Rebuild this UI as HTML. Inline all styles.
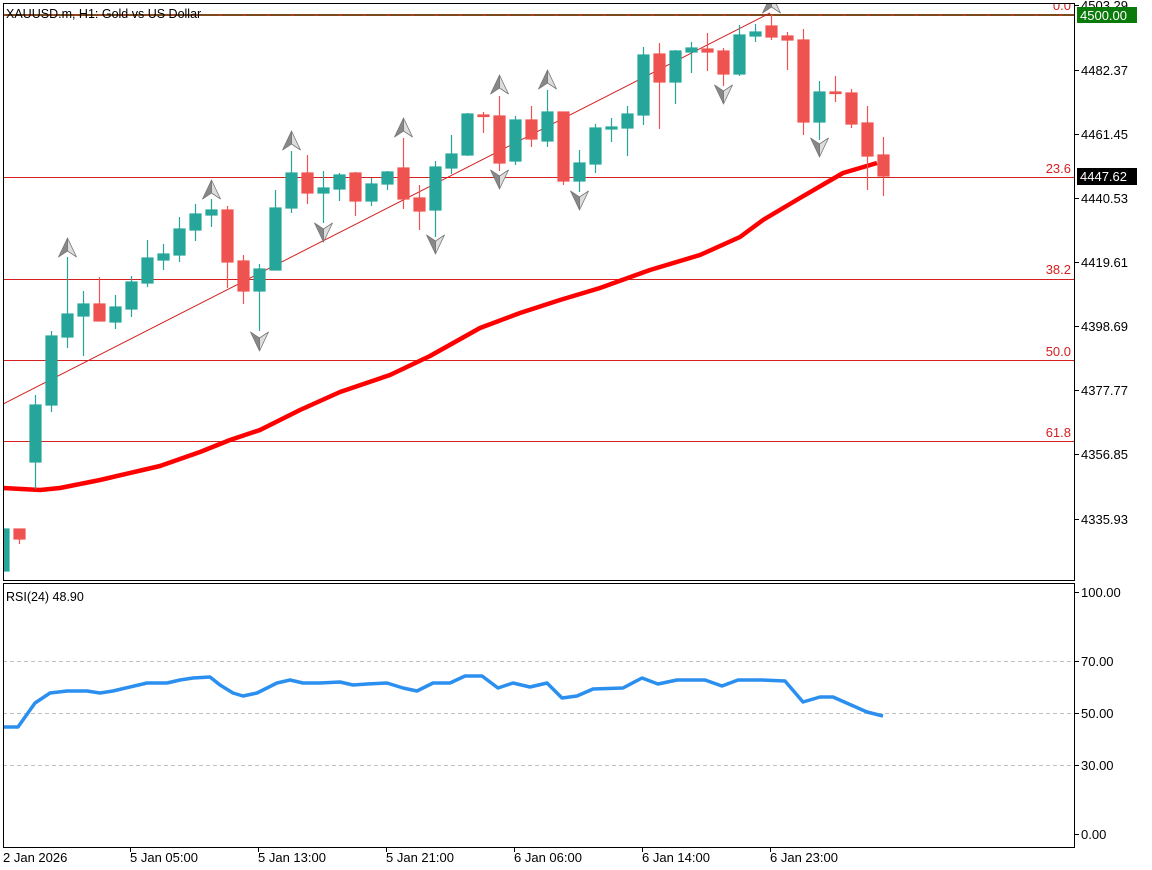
<!DOCTYPE html>
<html><head><meta charset="utf-8"><style>
html,body{margin:0;padding:0;background:#fff;}
svg{display:block;font-family:"Liberation Sans",sans-serif;}
</style></head><body>
<svg width="1152" height="870" viewBox="0 0 1152 870" xmlns="http://www.w3.org/2000/svg">
<defs><clipPath id="cm"><rect x="3" y="3" width="1072" height="577"/></clipPath>
<clipPath id="cr"><rect x="3" y="584" width="1072" height="264"/></clipPath></defs>
<rect width="1152" height="870" fill="#fff"/>
<g clip-path="url(#cm)">
<!-- fib lines -->
<line x1="3" y1="15" x2="1075" y2="15" stroke="#7a4a1a" stroke-width="2"/>
<line x1="3" y1="15" x2="1075" y2="15" stroke="#e03030" stroke-width="1" stroke-dasharray="3,21"/>
<g stroke="#d42020" stroke-width="1">
<line x1="3" y1="177.5" x2="1075" y2="177.5"/>
<line x1="3" y1="279.5" x2="1075" y2="279.5"/>
<line x1="3" y1="360.5" x2="1075" y2="360.5"/>
<line x1="3" y1="441.5" x2="1075" y2="441.5"/>
<line x1="3" y1="404" x2="770" y2="13"/>
</g>
<g fill="#d42020" font-size="13" text-anchor="end">
<text x="1071" y="10">0.0</text>
<text x="1071" y="173">23.6</text>
<text x="1071" y="274">38.2</text>
<text x="1071" y="356">50.0</text>
<text x="1071" y="437">61.8</text>
</g>
<!-- MA -->
<polyline fill="none" stroke="#ff0000" stroke-width="4.5" stroke-linejoin="round" points="3,488 40,490 60,488 100,480 160,466 200,452 230,440 260,430 300,410 340,392 390,375 430,356 480,328 520,313 560,300 600,288 650,270 700,255 740,237 763,220 800,198 843,173 877,163"/>
<!-- candles -->
<g id="c"></g>
<g stroke-width="1.2">
<g stroke="#26a69a" fill="#26a69a">
<line x1="3.5" y1="529" x2="3.5" y2="571"/><rect x="-2" y="529" width="11" height="42"/>
<line x1="35.5" y1="395" x2="35.5" y2="489"/><rect x="30" y="405" width="11" height="57"/>
<line x1="51.5" y1="331" x2="51.5" y2="412"/><rect x="46" y="336" width="11" height="69"/>
<line x1="67.5" y1="257" x2="67.5" y2="348"/><rect x="62" y="314" width="11" height="23"/>
<line x1="83.5" y1="291" x2="83.5" y2="356"/><rect x="78" y="304" width="11" height="12"/>
<line x1="115.5" y1="295" x2="115.5" y2="329"/><rect x="110" y="307" width="11" height="15"/>
<line x1="131.5" y1="276" x2="131.5" y2="317"/><rect x="126" y="282" width="11" height="27"/>
<line x1="147.5" y1="240" x2="147.5" y2="287"/><rect x="142" y="258" width="11" height="25"/>
<line x1="163.5" y1="244" x2="163.5" y2="270"/><rect x="158" y="254" width="11" height="6"/>
<line x1="179.5" y1="217" x2="179.5" y2="262"/><rect x="174" y="229" width="11" height="26"/>
<line x1="195.5" y1="204" x2="195.5" y2="241"/><rect x="190" y="214" width="11" height="16"/>
<line x1="211.5" y1="199" x2="211.5" y2="227"/><rect x="206" y="210" width="11" height="5"/>
<line x1="259.5" y1="264" x2="259.5" y2="331"/><rect x="254" y="269" width="11" height="22"/>
<line x1="275.5" y1="190" x2="275.5" y2="270"/><rect x="270" y="208" width="11" height="62"/>
<line x1="291.5" y1="151" x2="291.5" y2="213"/><rect x="286" y="173" width="11" height="35"/>
<line x1="323.5" y1="171" x2="323.5" y2="223"/><rect x="318" y="188" width="11" height="5"/>
<line x1="339.5" y1="173" x2="339.5" y2="201"/><rect x="334" y="175" width="11" height="14"/>
<line x1="371.5" y1="178" x2="371.5" y2="206"/><rect x="366" y="184" width="11" height="17"/>
<line x1="387.5" y1="171" x2="387.5" y2="190"/><rect x="382" y="172" width="11" height="12"/>
<line x1="435.5" y1="161" x2="435.5" y2="237"/><rect x="430" y="167" width="11" height="43"/>
<line x1="451.5" y1="135" x2="451.5" y2="174"/><rect x="446" y="154" width="11" height="14"/>
<line x1="467.5" y1="113" x2="467.5" y2="156"/><rect x="462" y="114" width="11" height="41"/>
<line x1="515.5" y1="116" x2="515.5" y2="165"/><rect x="510" y="120" width="11" height="41"/>
<line x1="547.5" y1="90" x2="547.5" y2="147"/><rect x="542" y="112" width="11" height="29"/>
<line x1="579.5" y1="150" x2="579.5" y2="192"/><rect x="574" y="163" width="11" height="18"/>
<line x1="595.5" y1="124" x2="595.5" y2="173"/><rect x="590" y="128" width="11" height="36"/>
<line x1="611.5" y1="118" x2="611.5" y2="142"/><rect x="606" y="127" width="11" height="2"/>
<line x1="627.5" y1="106" x2="627.5" y2="156"/><rect x="622" y="114" width="11" height="14"/>
<line x1="643.5" y1="47" x2="643.5" y2="125"/><rect x="638" y="55" width="11" height="60"/>
<line x1="675.5" y1="50" x2="675.5" y2="104"/><rect x="670" y="51" width="11" height="31"/>
<line x1="691.5" y1="42" x2="691.5" y2="73"/><rect x="686" y="48" width="11" height="4"/>
<line x1="739.5" y1="25" x2="739.5" y2="76"/><rect x="734" y="35" width="11" height="39"/>
<line x1="755.5" y1="24" x2="755.5" y2="42"/><rect x="750" y="32" width="11" height="4"/>
<line x1="819.5" y1="81" x2="819.5" y2="140"/><rect x="814" y="92" width="11" height="30"/>
</g>
<g stroke="#ef5350" fill="#ef5350">
<line x1="19.5" y1="529" x2="19.5" y2="544"/><rect x="14" y="529" width="11" height="10"/>
<line x1="99.5" y1="277" x2="99.5" y2="321"/><rect x="94" y="304" width="11" height="17"/>
<line x1="227.5" y1="206" x2="227.5" y2="288"/><rect x="222" y="210" width="11" height="52"/>
<line x1="243.5" y1="255" x2="243.5" y2="304"/><rect x="238" y="261" width="11" height="30"/>
<line x1="307.5" y1="155" x2="307.5" y2="204"/><rect x="302" y="173" width="11" height="20"/>
<line x1="355.5" y1="172" x2="355.5" y2="216"/><rect x="350" y="173" width="11" height="28"/>
<line x1="403.5" y1="138" x2="403.5" y2="209"/><rect x="398" y="168" width="11" height="31"/>
<line x1="419.5" y1="185" x2="419.5" y2="230"/><rect x="414" y="198" width="11" height="13"/>
<line x1="483.5" y1="112" x2="483.5" y2="133"/><rect x="478" y="115" width="11" height="1.5"/>
<line x1="499.5" y1="96" x2="499.5" y2="171"/><rect x="494" y="116" width="11" height="47"/>
<line x1="531.5" y1="106" x2="531.5" y2="147"/><rect x="526" y="120" width="11" height="19"/>
<line x1="563.5" y1="112" x2="563.5" y2="185"/><rect x="558" y="112" width="11" height="69"/>
<line x1="659.5" y1="43" x2="659.5" y2="129"/><rect x="654" y="54" width="11" height="28"/>
<line x1="707.5" y1="33" x2="707.5" y2="71"/><rect x="702" y="49" width="11" height="3"/>
<line x1="723.5" y1="48" x2="723.5" y2="86"/><rect x="718" y="51" width="11" height="23"/>
<line x1="771.5" y1="15" x2="771.5" y2="40"/><rect x="766" y="26" width="11" height="11"/>
<line x1="787.5" y1="32" x2="787.5" y2="70"/><rect x="782" y="36" width="11" height="4"/>
<line x1="803.5" y1="29" x2="803.5" y2="135"/><rect x="798" y="40" width="11" height="82"/>
<line x1="835.5" y1="76" x2="835.5" y2="102"/><rect x="830" y="92" width="11" height="1.5"/>
<line x1="851.5" y1="89" x2="851.5" y2="128"/><rect x="846" y="93" width="11" height="31"/>
<line x1="867.5" y1="106" x2="867.5" y2="190"/><rect x="862" y="123" width="11" height="33"/>
<line x1="883.5" y1="137" x2="883.5" y2="196"/><rect x="878" y="155" width="11" height="21"/>
</g>
</g>
<!-- arrows up: (cx, bottom) -->
<g stroke="#777" stroke-width="0.8" stroke-linejoin="round">
<g transform="translate(67.5,257)"><polygon points="0,-19 9,0 0,-6" fill="#ddd"/><polygon points="0,-19 -9,0 0,-6" fill="#888"/></g>
<g transform="translate(211.5,199)"><polygon points="0,-19 9,0 0,-6" fill="#ddd"/><polygon points="0,-19 -9,0 0,-6" fill="#888"/></g>
<g transform="translate(291.5,150)"><polygon points="0,-19 9,0 0,-6" fill="#ddd"/><polygon points="0,-19 -9,0 0,-6" fill="#888"/></g>
<g transform="translate(403.5,137)"><polygon points="0,-19 9,0 0,-6" fill="#ddd"/><polygon points="0,-19 -9,0 0,-6" fill="#888"/></g>
<g transform="translate(499.5,94)"><polygon points="0,-19 9,0 0,-6" fill="#ddd"/><polygon points="0,-19 -9,0 0,-6" fill="#888"/></g>
<g transform="translate(547.5,89)"><polygon points="0,-19 9,0 0,-6" fill="#ddd"/><polygon points="0,-19 -9,0 0,-6" fill="#888"/></g>
<g transform="translate(771.5,13)"><polygon points="0,-19 9,0 0,-6" fill="#ddd"/><polygon points="0,-19 -9,0 0,-6" fill="#888"/></g>
<!-- down -->
<g transform="translate(259.5,332)"><polygon points="0,19 9,0 0,6" fill="#ddd"/><polygon points="0,19 -9,0 0,6" fill="#888"/></g>
<g transform="translate(323.5,223)"><polygon points="0,19 9,0 0,6" fill="#ddd"/><polygon points="0,19 -9,0 0,6" fill="#888"/></g>
<g transform="translate(435.5,235)"><polygon points="0,19 9,0 0,6" fill="#ddd"/><polygon points="0,19 -9,0 0,6" fill="#888"/></g>
<g transform="translate(499.5,170)"><polygon points="0,19 9,0 0,6" fill="#ddd"/><polygon points="0,19 -9,0 0,6" fill="#888"/></g>
<g transform="translate(579.5,191)"><polygon points="0,19 9,0 0,6" fill="#ddd"/><polygon points="0,19 -9,0 0,6" fill="#888"/></g>
<g transform="translate(723.5,85)"><polygon points="0,19 9,0 0,6" fill="#ddd"/><polygon points="0,19 -9,0 0,6" fill="#888"/></g>
<g transform="translate(819.5,138)"><polygon points="0,19 9,0 0,6" fill="#ddd"/><polygon points="0,19 -9,0 0,6" fill="#888"/></g>
</g>
<text x="6" y="18" font-size="12.5" fill="#000">XAUUSD.m, H1:  Gold vs US Dollar</text>
</g>
<!-- RSI -->
<g stroke="#c0c0c0" stroke-width="1" stroke-dasharray="4,3">
<line x1="3" y1="661.5" x2="1075" y2="661.5"/>
<line x1="3" y1="713.5" x2="1075" y2="713.5"/>
<line x1="3" y1="765.5" x2="1075" y2="765.5"/>
</g>
<g clip-path="url(#cr)">
<polyline fill="none" stroke="#2b8ff0" stroke-width="3.5" stroke-linejoin="round" points="0,727 18,727 35,703 50,693 67,691 87,691 100,693 113,691 147,683 167,683 180,680 193,678 210,677 220,685 233,693 243,696 257,693 277,683 290,680 303,683 320,683 340,682 353,685 367,684 387,683 403,688 417,691 433,683 450,683 465,676 482,676 498,688 513,683 530,687 547,683 562,698 577,696 593,689 623,688 642,678 658,684 677,680 705,680 722,686 738,680 762,680 785,681 803,702 820,697 833,697 867,712 883,716"/>
</g>
<text x="6" y="601" font-size="12.5" fill="#000">RSI(24) 48.90</text>
<!-- frames -->
<g fill="none" stroke="#000" stroke-width="1">
<rect x="3.5" y="3.5" width="1071" height="577"/>
<rect x="3.5" y="583.5" width="1071" height="264"/>
</g>
<!-- price axis -->
<g stroke="#000" stroke-width="1">
<line x1="1075" y1="5.5" x2="1079" y2="5.5"/><line x1="1075" y1="70.5" x2="1079" y2="70.5"/><line x1="1075" y1="134.5" x2="1079" y2="134.5"/><line x1="1075" y1="198.5" x2="1079" y2="198.5"/><line x1="1075" y1="262.5" x2="1079" y2="262.5"/><line x1="1075" y1="326.5" x2="1079" y2="326.5"/><line x1="1075" y1="390.5" x2="1079" y2="390.5"/><line x1="1075" y1="454.5" x2="1079" y2="454.5"/><line x1="1075" y1="519.5" x2="1079" y2="519.5"/>
<line x1="1075" y1="592.5" x2="1079" y2="592.5"/><line x1="1075" y1="661.5" x2="1079" y2="661.5"/><line x1="1075" y1="713.5" x2="1079" y2="713.5"/><line x1="1075" y1="765.5" x2="1079" y2="765.5"/><line x1="1075" y1="834.5" x2="1079" y2="834.5"/>
<line x1="130.5" y1="848" x2="130.5" y2="852"/><line x1="258.5" y1="848" x2="258.5" y2="852"/><line x1="386.5" y1="848" x2="386.5" y2="852"/><line x1="514.5" y1="848" x2="514.5" y2="852"/><line x1="642.5" y1="848" x2="642.5" y2="852"/><line x1="770.5" y1="848" x2="770.5" y2="852"/>
</g>
<g font-size="13" fill="#000">
<text x="1081" y="10">4503.29</text>
<text x="1081" y="75">4482.37</text>
<text x="1081" y="139">4461.45</text>
<text x="1081" y="203">4440.53</text>
<text x="1081" y="267">4419.61</text>
<text x="1081" y="331">4398.69</text>
<text x="1081" y="395">4377.77</text>
<text x="1081" y="459">4356.85</text>
<text x="1081" y="524">4335.93</text>
<text x="1081" y="597">100.00</text>
<text x="1081" y="666">70.00</text>
<text x="1081" y="718">50.00</text>
<text x="1081" y="770">30.00</text>
<text x="1081" y="839">0.00</text>
</g>
<rect x="1077" y="7" width="60" height="16" fill="#0a7a0a"/>
<text x="1080" y="20" font-size="13" fill="#fff">4500.00</text>
<rect x="1077" y="168" width="60" height="17" fill="#000"/>
<text x="1080" y="181" font-size="13" fill="#fff">4447.62</text>
<g font-size="13" fill="#000">
<text x="3" y="862">2 Jan 2026</text>
<text x="130" y="862">5 Jan 05:00</text>
<text x="258" y="862">5 Jan 13:00</text>
<text x="386" y="862">5 Jan 21:00</text>
<text x="514" y="862">6 Jan 06:00</text>
<text x="642" y="862">6 Jan 14:00</text>
<text x="770" y="862">6 Jan 23:00</text>
</g>
</svg>
</body></html>
